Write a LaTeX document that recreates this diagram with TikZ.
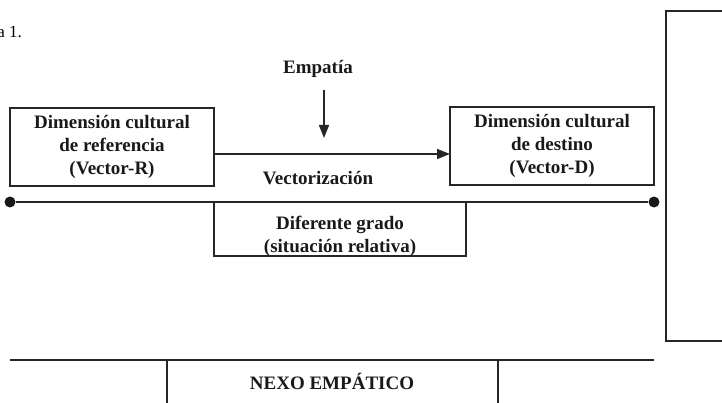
\documentclass[tikz,border=0pt]{standalone}
\usepackage{fontspec}
\setmainfont{Liberation Serif}
\usetikzlibrary{arrows.meta}
\begin{document}
\begin{tikzpicture}[x=1pt,y=-1pt,
  ln/.style={line width=1.6pt, draw=black!85},
  boxtxt/.style={font=\fontsize{19}{23}\selectfont\bfseries, align=center, inner sep=0pt, text=black!90},
  dimbox/.style={ln, minimum width=204pt, minimum height=78pt, inner sep=0pt},
  arr/.style={ln, -{Triangle[length=13pt,width=10pt]}},
  dotnode/.style={circle, fill=black!90, minimum size=11pt, inner sep=0pt}]
\useasboundingbox (0,0) rectangle (722,403);
\clip (0,0) rectangle (722,403);
% caption fragment
\node[anchor=base east, font=\fontsize{17}{20}\selectfont, inner sep=0pt] (cap) at (22,38) {a 1.};
% boxes
\node[dimbox] (ref) at (112,147) {};
\node[boxtxt] (reftxt) at (112,147) {Dimensión cultural\\de referencia\\(Vector-R)};
\node[dimbox] (dest) at (552,146) {};
\node[boxtxt] (desttxt) at (552,146) {Dimensión cultural\\de destino\\(Vector-D)};
% vectorization arrow
\coordinate (va) at (214,154);
\coordinate (vb) at (450,154);
\draw[arr] (va) -- (vb);
\node[boxtxt] (vec) at (318,178) {Vectorización};
% empatia
\node[boxtxt] (emp) at (318,69) {Empatía};
\coordinate (e1) at (324,90);
\coordinate (e2) at (324,138);
\draw[arr] (e1) -- (e2);
% main line with dots
\node[dotnode] (d1) at (10,202) {};
\node[dotnode] (d2) at (654,202) {};
\draw[ln] (d1) -- (d2);
% diferente grado box
\begin{scope}
\clip (214,203) rectangle (466,255);
\node[boxtxt] (dif) at (340,236) {Diferente grado\\(situación relativa)};
\end{scope}
\coordinate (g1) at (214,202);
\coordinate (g2) at (214,256);
\coordinate (g3) at (466,256);
\coordinate (g4) at (466,202);
\draw[ln] (g1) -- (g2) -- (g3) -- (g4);
% tall right box
\coordinate (t1) at (730,11);
\coordinate (t2) at (666,11);
\coordinate (t3) at (666,341);
\coordinate (t4) at (730,341);
\draw[ln] (t1) -- (t2) -- (t3) -- (t4);
% bottom nexo
\coordinate (n1) at (10,360);
\coordinate (n2) at (654,360);
\draw[ln] (n1) -- (n2);
\coordinate (n3) at (167,360);
\coordinate (n4) at (167,410);
\coordinate (n5) at (498,360);
\coordinate (n6) at (498,410);
\draw[ln] (n3) -- (n4);
\draw[ln] (n5) -- (n6);
\node[boxtxt] (nexo) at (332,381) {NEXO EMPÁTICO};
\end{tikzpicture}
\end{document}
